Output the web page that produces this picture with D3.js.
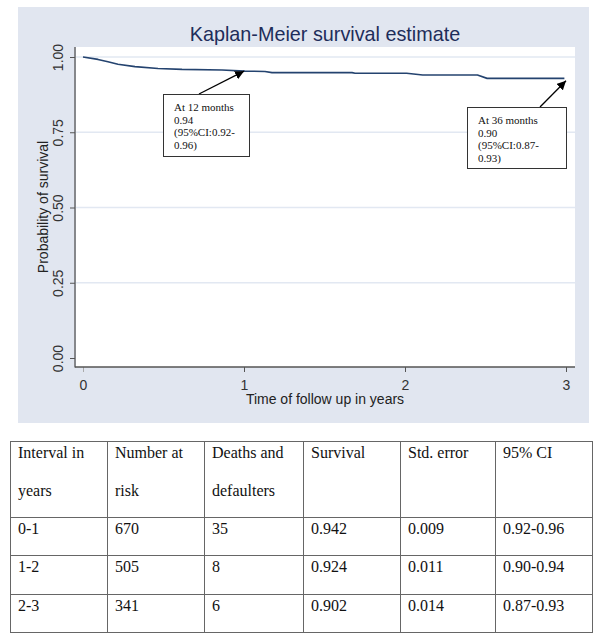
<!DOCTYPE html>
<html>
<head>
<meta charset="utf-8">
<script src="https://cdn.jsdelivr.net/npm/d3@7"></script>
<style>
  html, body { margin: 0; padding: 0; background: #ffffff; }
  svg { display: block; }
</style>
</head>
<body>
<div id="chart"></div>
<script>
// ---- Kaplan-Meier curve ----
const timeYears = [0, 0.093, 0.155, 0.217, 0.323, 0.466, 0.615, 0.863, 1.006, 1.13, 1.174, 1.671, 1.69, 2.01, 2.11, 2.45, 2.51, 2.99];
const survivalKM = [1.0, 0.992, 0.984, 0.976, 0.968, 0.962, 0.959, 0.957, 0.953, 0.952, 0.948, 0.948, 0.946, 0.946, 0.940, 0.940, 0.929, 0.929];

const yTicks = [0, 0.25, 0.5, 0.75, 1.0];
const xTicks = [0, 1, 2, 3];

const chartTitle = "Kaplan-Meier survival estimate";
const yTitle = "Probability of survival";
const xTitle = "Time of follow up in years";

// annotations: target point (time, survival) and text lines
const annotTargetTime = [1.0, 3.0];
const annotTargetSurv = [0.953, 0.921];
const annotLines = [
  ["At 12 months", "0.94", "(95%CI:0.92-", "0.96)"],
  ["At 36 months", "0.90", "(95%CI:0.87-", "0.93)"]
];

// ---- Life table ----
const tableHeaders = [["Interval in", "years"], ["Number at", "risk"], ["Deaths and", "defaulters"], ["Survival"], ["Std. error"], ["95% CI"]];
const intervals = ["0-1", "1-2", "2-3"];
const numberAtRisk = [670, 505, 341];
const deathsDefaulters = [35, 8, 6];
const survivalTable = ["0.942", "0.924", "0.902"];
const stdError = ["0.009", "0.011", "0.014"];
const ci95 = ["0.92-0.96", "0.90-0.94", "0.87-0.93"];

// ---- drawing ----
const W = 600, H = 642;
const svg = d3.select("#chart").append("svg").attr("width", W).attr("height", H);
const sans = "'Liberation Sans', Arial, sans-serif";
const serif = "'Liberation Serif', 'Times New Roman', serif";

const bg = "#e1e6f0";
const panel = {x: 18, y: 7, w: 571, h: 416};
const plot = {x0: 75, x1: 575, y0: 47, y1: 367};

svg.append("rect").attr("x", 0).attr("y", 0).attr("width", W).attr("height", H).attr("fill", "#fff");
svg.append("rect").attr("x", panel.x).attr("y", panel.y).attr("width", panel.w).attr("height", panel.h).attr("fill", bg);
svg.append("rect").attr("x", plot.x0 + 1).attr("y", plot.y0).attr("width", plot.x1 - plot.x0 - 1).attr("height", plot.y1 - plot.y0).attr("fill", "#fff");

const x = d3.scaleLinear().domain([0, 3]).range([83, 566]);
const y = d3.scaleLinear().domain([0, 1]).range([358, 57]);

// gridlines
svg.append("g").selectAll("line").data(yTicks.filter(d => d > 0)).join("line")
  .attr("x1", plot.x0 + 1).attr("x2", plot.x1)
  .attr("y1", d => y(d)).attr("y2", d => y(d))
  .attr("stroke", "#e2e8f2").attr("stroke-width", 1.6);

// title
svg.append("text").attr("x", (plot.x0 + plot.x1) / 2).attr("y", 41)
  .attr("text-anchor", "middle").attr("font-family", sans).attr("font-size", 19.8)
  .attr("fill", "#1e2d5a").text(chartTitle);

// y axis
const yAxis = d3.axisLeft(y).tickValues(yTicks).tickFormat(d3.format(".2f")).tickSize(5).tickPadding(0);
const gy = svg.append("g").attr("transform", `translate(${plot.x0},0)`).call(yAxis);
gy.select(".domain").remove();
gy.selectAll(".tick line").attr("stroke", "#555");
gy.selectAll(".tick text")
  .attr("transform", "translate(-17,0) rotate(-90)")
  .attr("x", 0).attr("dy", 0).attr("y", 0)
  .attr("text-anchor", "middle").attr("dominant-baseline", "central")
  .attr("font-family", sans).attr("font-size", 14).attr("fill", "#333");

// x axis
const xAxis = d3.axisBottom(x).tickValues(xTicks).tickFormat(d3.format("d")).tickSize(5).tickPadding(8);
const gx = svg.append("g").attr("transform", `translate(0,${plot.y1})`).call(xAxis);
gx.select(".domain").remove();
gx.selectAll(".tick line").attr("stroke", (d) => d === 0 ? "#aaa" : "#555");
gx.selectAll(".tick text").attr("font-family", sans).attr("font-size", 14).attr("fill", "#333");

// axis lines
svg.append("line").attr("x1", plot.x0).attr("x2", plot.x0).attr("y1", plot.y0).attr("y2", plot.y1 + 0.5)
  .attr("stroke", "#555").attr("stroke-width", 1.3);
svg.append("line").attr("x1", plot.x0).attr("x2", plot.x1).attr("y1", plot.y1).attr("y2", plot.y1)
  .attr("stroke", "#555").attr("stroke-width", 1.3);

// axis titles
svg.append("text").attr("transform", `translate(43,${(plot.y0 + plot.y1) / 2}) rotate(-90)`)
  .attr("text-anchor", "middle").attr("dominant-baseline", "central")
  .attr("font-family", sans).attr("font-size", 14).attr("fill", "#222").text(yTitle);
svg.append("text").attr("x", (plot.x0 + plot.x1) / 2).attr("y", 404)
  .attr("text-anchor", "middle").attr("font-family", sans).attr("font-size", 14).attr("fill", "#222").text(xTitle);

// KM curve
const kmData = timeYears.map((t, i) => ({t, s: survivalKM[i]}));
const line = d3.line().x(d => x(d.t)).y(d => y(d.s)).curve(d3.curveLinear);
svg.append("path").datum(kmData).attr("d", line)
  .attr("fill", "none").attr("stroke", "#24436f").attr("stroke-width", 1.6)
  .attr("stroke-linejoin", "round");

// arrow marker
svg.append("defs").append("marker").attr("id", "ah")
  .attr("viewBox", "0 0 10 10").attr("refX", 10).attr("refY", 5)
  .attr("markerWidth", 9).attr("markerHeight", 9).attr("markerUnits", "userSpaceOnUse")
  .attr("orient", "auto")
  .append("path").attr("d", "M0,0 L10,5 L0,10 z").attr("fill", "#000");

// annotation boxes (layout positions)
const boxes = [
  {x: 163, y: 94, w: 86, h: 62, ax: 199},
  {x: 467, y: 107, w: 99, h: 61, ax: 540}
];
boxes.forEach((b, i) => {
  svg.append("line").attr("x1", b.ax).attr("y1", b.y)
    .attr("x2", x(annotTargetTime[i])).attr("y2", y(annotTargetSurv[i]))
    .attr("stroke", "#000").attr("stroke-width", 1.3).attr("marker-end", "url(#ah)");
  svg.append("rect").attr("x", b.x + 0.5).attr("y", b.y + 0.5).attr("width", b.w).attr("height", b.h)
    .attr("fill", "#fff").attr("stroke", "#333").attr("stroke-width", 1);
  const t = svg.append("text").attr("font-family", serif).attr("font-size", 11).attr("fill", "#111");
  annotLines[i].forEach((ln, j) => {
    t.append("tspan").attr("x", b.x + 11).attr("y", b.y + 17 + j * 12.6).text(ln);
  });
});

// ---- table ----
const colX = [10, 107, 204, 303, 400, 495, 592];
const rowY = [441, 517, 555, 594, 632];
const tg = svg.append("g");
colX.forEach(cx => tg.append("line").attr("x1", cx + 0.5).attr("x2", cx + 0.5).attr("y1", rowY[0]).attr("y2", rowY[rowY.length - 1] + 0.5)
  .attr("stroke", "#666").attr("stroke-width", 1));
rowY.forEach(ry => tg.append("line").attr("x1", colX[0]).attr("x2", colX[colX.length - 1] + 1).attr("y1", ry + 0.5).attr("y2", ry + 0.5)
  .attr("stroke", "#666").attr("stroke-width", 1));

tableHeaders.forEach((hdr, c) => {
  hdr.forEach((ln, j) => {
    tg.append("text").attr("x", colX[c] + 8).attr("y", rowY[0] + 17 + j * 38)
      .attr("font-family", serif).attr("font-size", 16).attr("fill", "#111").text(ln);
  });
});
const rows = intervals.map((iv, r) => [iv, numberAtRisk[r], deathsDefaulters[r], survivalTable[r], stdError[r], ci95[r]]);
rows.forEach((row, r) => {
  row.forEach((val, c) => {
    tg.append("text").attr("x", colX[c] + 8).attr("y", rowY[r + 1] + 17)
      .attr("font-family", serif).attr("font-size", 16).attr("fill", "#111").text(val);
  });
});
</script>
</body>
</html>
